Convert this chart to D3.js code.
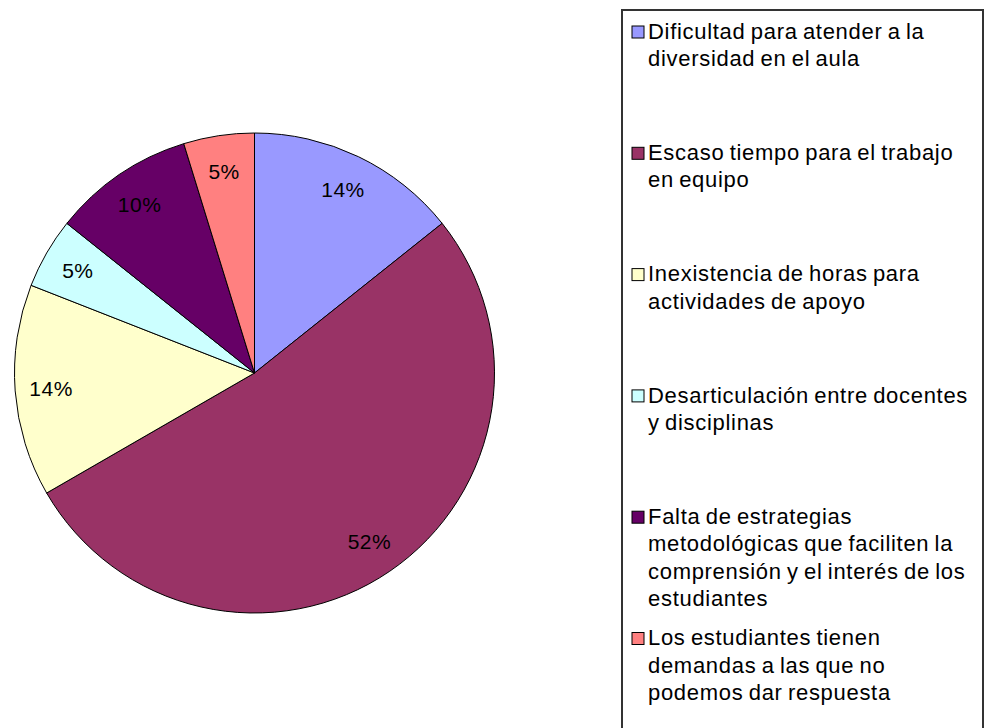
<!DOCTYPE html>
<html lang="es">
  <head>
    <meta charset="UTF-8" />
    <title>Pie chart</title>
    <script src="https://d3js.org/d3.v7.min.js"></script>
    <style>
      body {
        margin: 0;
        background: #fff;
        font-family: "Liberation Sans", Arial, sans-serif;
      }
      svg {
        display: block;
      }
    </style>
  </head>
  <body>
    <svg id="chart" width="984" height="728"></svg>

    <script>
      // answers counted per category (21 in total)
      const categories = [
        ["Dificultad para atender a la", "diversidad en el aula"],
        ["Escaso tiempo para el trabajo", "en equipo"],
        ["Inexistencia de horas para", "actividades de apoyo"],
        ["Desarticulación entre docentes", "y disciplinas"],
        ["Falta de estrategias", "metodológicas que faciliten la", "comprensión y el interés de los", "estudiantes"],
        ["Los estudiantes tienen", "demandas a las que no", "podemos dar respuesta"],
      ];
      const counts = [3, 11, 3, 1, 2, 1];
      const percentLabels = ["14%", "52%", "14%", "5%", "10%", "5%"];
      const colors = ["#9999FF", "#993366", "#FFFFCC", "#CCFFFF", "#660066", "#FF8080"];

      const svg = d3.select("#chart");
      const cx = 254.5, cy = 373, radius = 240;

      const data = counts.map((c, i) => ({ i, value: c }));
      const pie = d3.pie().sort(null).value((d) => d.value);
      const arc = d3.arc().innerRadius(0).outerRadius(radius);
      const labelArc = d3.arc().innerRadius(radius * 0.85).outerRadius(radius * 0.85);

      const g = svg.append("g").attr("transform", `translate(${cx}, ${cy})`);

      const slices = pie(data);

      g.selectAll("path")
        .data(slices)
        .enter()
        .append("path")
        .attr("d", arc)
        .attr("fill", (d) => colors[d.data.i])
        .attr("stroke", "#000")
        .attr("stroke-width", 1);

      g.selectAll("text")
        .data(slices)
        .enter()
        .append("text")
        .attr("transform", (d) => `translate(${labelArc.centroid(d)})`)
        .attr("text-anchor", "middle")
        .attr("dy", "0.35em")
        .style("font-size", "21px")
        .style("letter-spacing", "0.5px")
        .attr("fill", "#000")
        .text((d) => percentLabels[d.data.i]);

      // legend box, runs off the bottom like the original
      svg.append("rect")
        .attr("x", 622)
        .attr("y", 10)
        .attr("width", 361)
        .attr("height", 740)
        .attr("fill", "#fff")
        .attr("stroke", "#333")
        .attr("stroke-width", 2);

      const legendTop = 31, legendStep = 121.3, lineH = 27.5;

      const items = svg.selectAll(".legend-item")
        .data(categories)
        .enter()
        .append("g")
        .attr("class", "legend-item")
        .attr("transform", (d, i) => `translate(0, ${legendTop + i * legendStep})`);

      items.append("rect")
        .attr("x", 632)
        .attr("y", -5)
        .attr("width", 12)
        .attr("height", 12)
        .attr("fill", (d, i) => colors[i])
        .attr("stroke", "#000")
        .attr("stroke-width", 1);

      items.each(function (lines) {
        const t = d3.select(this)
          .append("text")
          .style("font-size", "22px")
          .style("letter-spacing", "0.7px")
          .style("word-spacing", "-1.5px")
          .attr("fill", "#000");
        lines.forEach((line, k) => {
          t.append("tspan")
            .attr("x", 648)
            .attr("y", k * lineH)
            .attr("dy", "0.35em")
            .text(line);
        });
      });
    </script>
  </body>
</html>
